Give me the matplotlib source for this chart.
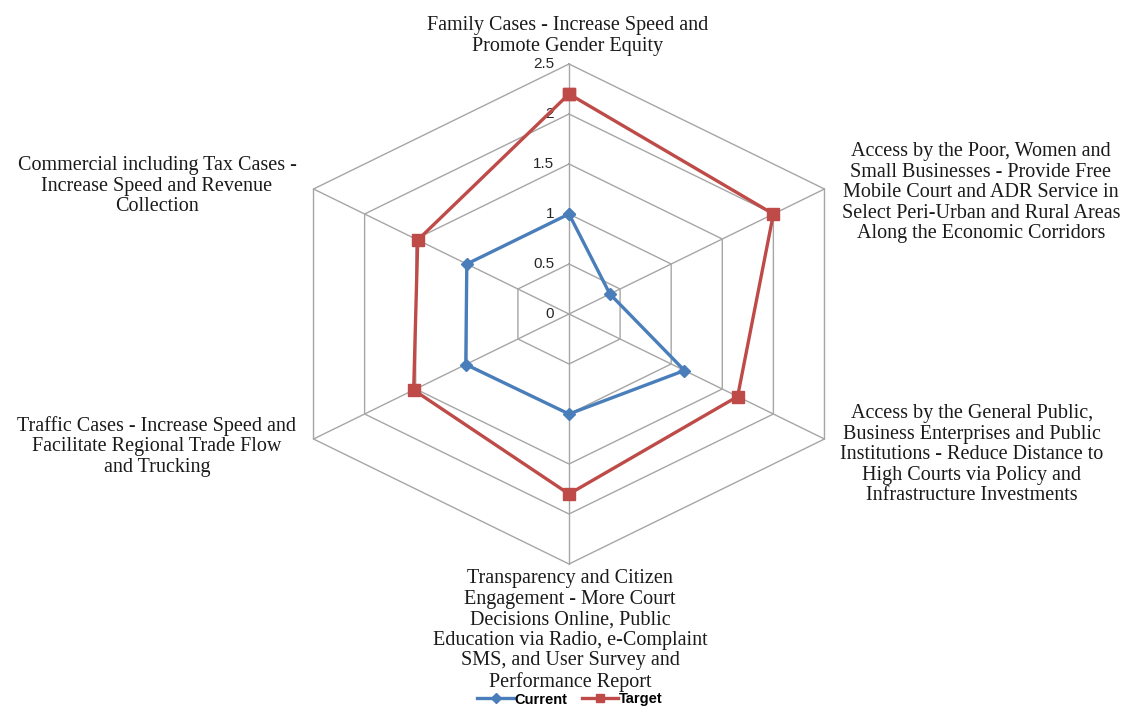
import numpy as np
import matplotlib
matplotlib.use("Agg")
import matplotlib.pyplot as plt
from matplotlib.lines import Line2D

categories = [
    "Family Cases - Increase Speed and\nPromote Gender Equity",
    "Access by the Poor, Women and\nSmall Businesses - Provide Free\nMobile Court and ADR Service in\nSelect Peri-Urban and Rural Areas\nAlong the Economic Corridors",
    "Access by the General Public,\nBusiness Enterprises and Public\nInstitutions - Reduce Distance to\nHigh Courts via Policy and\nInfrastructure Investments",
    "Transparency and Citizen\nEngagement - More Court\nDecisions Online, Public\nEducation via Radio, e-Complaint\nSMS, and User Survey and\nPerformance Report",
    "Traffic Cases - Increase Speed and\nFacilitate Regional Trade Flow\nand Trucking",
    "Commercial including Tax Cases -\nIncrease Speed and Revenue\nCollection",
]
current = [1.0, 0.4, 1.13, 1.0, 1.01, 1.0]
target = [2.2, 2.0, 1.65, 1.8, 1.52, 1.48]
ticks = [0, 0.5, 1, 1.5, 2, 2.5]
tick_labels = ["0", "0.5", "1", "1.5", "2", "2.5"]
series_names = ["Current", "Target"]

W, H = 1127, 707
fig = plt.figure(figsize=(W / 100, H / 100), dpi=100)
ax = fig.add_axes([0, 0, 1, 1])
cx, cy = 569, 314
sx, sy = 118.0, 100.0
ax.set_xlim(-cx / sx, (W - cx) / sx)
ax.set_ylim(-(H - cy) / sy, cy / sy)
ax.axis("off")

n = len(categories)
theta = np.pi / 2 - np.arange(n) * 2 * np.pi / n
ct, st = np.cos(theta), np.sin(theta)
rmax = ticks[-1]
grid_color = "#a6a6a6"

# grid
for t in ticks[1:]:
    xs = np.append(t * ct, t * ct[0])
    ys = np.append(t * st, t * st[0])
    ax.plot(xs, ys, color=grid_color, lw=1.0, zorder=1)
for i in range(n):
    ax.plot([0, rmax * ct[i]], [0, rmax * st[i]], color=grid_color, lw=1.0, zorder=1)

# tick labels
for t, lab in zip(ticks, tick_labels):
    ax.text(-15 / sx, t, lab, ha="right", va="center", fontsize=11,
            family="Liberation Sans", color="#262626")

blue = "#4a7ebb"
red = "#be4b48"

def plot_series(vals, color, marker, ms):
    v = np.array(vals)
    xs = np.append(v * ct, v[0] * ct[0])
    ys = np.append(v * st, v[0] * st[0])
    ax.plot(xs, ys, color=color, lw=2.4, marker=marker, ms=ms,
            markeredgecolor=color, markerfacecolor=color, zorder=3)

plot_series(target, red, "s", 8)
plot_series(current, blue, "D", 6.5)

# category labels (pixel positions converted to data coords)
label_pos = [
    (568, 16),
    (981, 142),
    (972, 404),
    (570, 569),
    (157, 416),
    (157, 156),
]
for lab, (px, py) in zip(categories, label_pos):
    ax.text((px - cx) / sx, (cy - py) / sy, lab, ha="center", va="top",
            fontsize=14.5, family="Liberation Serif", linespacing=1.11,
            color="#1a1a1a")

handles = [
    Line2D([], [], color=blue, lw=2.4, marker="D", ms=5, markerfacecolor=blue),
    Line2D([], [], color=red, lw=2.4, marker="s", ms=6, markerfacecolor=red),
]
leg = fig.legend(handles, series_names, loc="center", bbox_to_anchor=(570 / W, 1 - 699.5 / H),
                 ncol=2, frameon=False, prop={"family": "Liberation Sans", "weight": "bold", "size": 10.5},
                 handlelength=2.5, handletextpad=0.05, columnspacing=1.0, borderpad=0)

fig.savefig("out.png", dpi=100)
